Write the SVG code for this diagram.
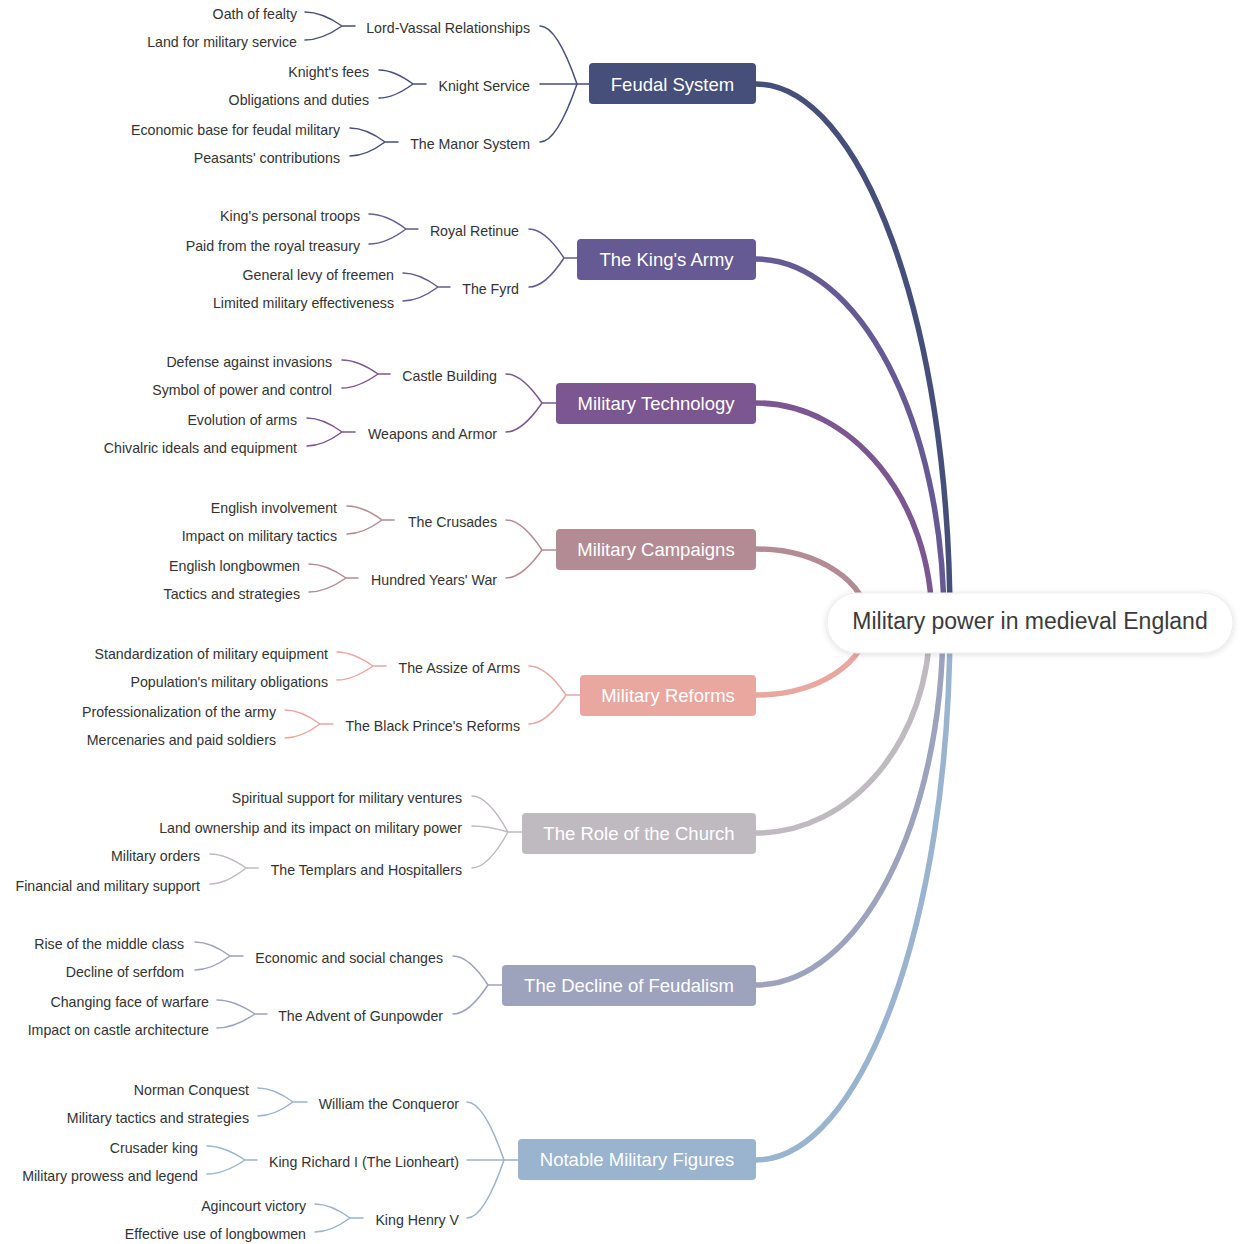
<svg xmlns="http://www.w3.org/2000/svg" width="1240" height="1244" viewBox="0 0 1240 1244">
<defs>
<filter id="sh" x="-10%" y="-40%" width="120%" height="180%">
<feDropShadow dx="0" dy="1" stdDeviation="3" flood-color="#000" flood-opacity="0.14"/>
</filter>
<style>
text{font-family:"Liberation Sans",Arial,Helvetica,sans-serif}
.t{font-size:14.2px;fill:#333;text-anchor:end}
.b{font-size:18.5px;fill:#fff;text-anchor:middle}
.r{font-size:23px;fill:#3a3a3a;text-anchor:middle}
.l{fill:none;stroke-width:1.5;stroke-linecap:round}
.m{fill:none;stroke-width:5.5}
.cF{stroke:#464e7a}.cK{stroke:#655a93}.cT{stroke:#7c5690}.cC{stroke:#b38b95}.cR{stroke:#e9a79f}.cH{stroke:#bfb9c0}.cD{stroke:#9ea3bd}.cN{stroke:#9ab3cf}
</style>
</defs>
<rect width="1240" height="1244" fill="#fff"/>
<g id="connectors">
<path class="m cF" d="M756,84 C860,84 950,320 950,622"/>
<path class="m cK" d="M756,259 C858,259 944,420 944,622"/>
<path class="m cT" d="M756,403 C852,403 932,500 932,622"/>
<path class="m cC" d="M756,549 C818,549 868,582 868,622"/>
<path class="m cR" d="M756,695 C818,695 868,662 868,622"/>
<path class="m cH" d="M756,833 C852,833 930,740 930,622"/>
<path class="m cD" d="M756,985 C858,985 943,824 943,622"/>
<path class="m cN" d="M756,1160 C860,1160 950,924 950,622"/>
<g class="l cF">
<path d="M540,26 Q557,26 577,84 M540,142 Q557,142 577,84 M540,84 H589"/>
<path d="M305,12 Q322,12 342,26 M305,40 Q322,40 342,26 M342,26 H355"/>
<path d="M379,70 Q394,70 413,84 M379,98 Q394,98 413,84 M413,84 H426"/>
<path d="M350,128 Q366,128 385,142 M350,156 Q366,156 385,142 M385,142 H398"/>
</g>
<g class="l cK">
<path d="M529,229 Q545,229 564,258 M529,287 Q545,287 564,258 M564,258 H577"/>
<path d="M369,214 Q386,214 406,229 M369,244 Q386,244 406,229 M406,229 H418"/>
<path d="M403,273 Q419,273 438,287 M403,301 Q419,301 438,287 M438,287 H450"/>
</g>
<g class="l cT">
<path d="M506,374 Q522,374 542,403 M506,432 Q522,432 542,403 M542,403 H556"/>
<path d="M342,360 Q358,360 378,374 M342,388 Q358,388 378,374 M378,374 H390"/>
<path d="M307,418 Q323,418 342,432 M307,446 Q323,446 342,432 M342,432 H355"/>
</g>
<g class="l cC">
<path d="M506,520 Q522,520 542,550 M506,578 Q522,578 542,550 M542,550 H556"/>
<path d="M347,506 Q363,506 382,520 M347,534 Q363,534 382,520 M382,520 H394"/>
<path d="M309,564 Q326,564 346,578 M309,592 Q326,592 346,578 M346,578 H358"/>
</g>
<g class="l cR">
<path d="M529,666 Q546,666 566,695 M529,724 Q546,724 566,695 M566,695 H580"/>
<path d="M337,652 Q353,652 373,666 M337,680 Q353,680 373,666 M373,666 H386"/>
<path d="M285,710 Q301,710 320,724 M285,738 Q301,738 320,724 M320,724 H333"/>
</g>
<g class="l cH">
<path d="M472,796 Q488,796 508,832 M472,826 Q488,826 508,832 M472,868 Q488,868 508,832 M508,832 H522"/>
<path d="M210,854 Q226,854 246,868 M210,884 Q226,884 246,868 M246,868 H258"/>
</g>
<g class="l cD">
<path d="M453,956 Q469,956 488,985 M453,1014 Q469,1014 488,985 M488,985 H502"/>
<path d="M195,942 Q211,942 230,956 M195,970 Q211,970 230,956 M230,956 H243"/>
<path d="M217,1000 Q234,1000 255,1014 M217,1028 Q234,1028 255,1014 M255,1014 H267"/>
</g>
<g class="l cN">
<path d="M467,1102 Q484,1102 504,1160 M467,1218 Q484,1218 504,1160 M467,1160 H518"/>
<path d="M258,1088 Q274,1088 293,1102 M258,1116 Q274,1116 293,1102 M293,1102 H307"/>
<path d="M207,1146 Q224,1146 245,1160 M207,1174 Q224,1174 245,1160 M245,1160 H257"/>
<path d="M315,1204 Q331,1204 350,1218 M315,1232 Q331,1232 350,1218 M350,1218 H363"/>
</g>
</g>
<g id="root">
<rect x="827" y="593" width="406" height="60" rx="30" fill="#fff" stroke="#ececec" stroke-width="1" filter="url(#sh)"/>
<text class="r" x="1030" y="629">Military power in medieval England</text>
</g>
<g id="feudal-system">
<rect x="589" y="63" width="167" height="41" rx="4" fill="#464e7a"/>
<text class="b" x="672.5" y="90.5">Feudal System</text>
<g id="lord-vassal"><text class="t" x="530" y="32.5">Lord-Vassal Relationships</text>
<text class="t" x="297" y="18.5">Oath of fealty</text><text class="t" x="297" y="46.5">Land for military service</text></g>
<g id="knight-service"><text class="t" x="530" y="90.5">Knight Service</text>
<text class="t" x="369" y="76.5">Knight's fees</text><text class="t" x="369" y="104.5">Obligations and duties</text></g>
<g id="manor"><text class="t" x="530" y="148.5">The Manor System</text>
<text class="t" x="340" y="134.5">Economic base for feudal military</text><text class="t" x="340" y="162.5">Peasants' contributions</text></g>
</g>
<g id="kings-army">
<rect x="577" y="239" width="179" height="41" rx="4" fill="#655a93"/>
<text class="b" x="666.5" y="266">The King's Army</text>
<g id="royal-retinue"><text class="t" x="519" y="235.5">Royal Retinue</text>
<text class="t" x="360" y="220.5">King's personal troops</text><text class="t" x="360" y="250.5">Paid from the royal treasury</text></g>
<g id="fyrd"><text class="t" x="519" y="293.5">The Fyrd</text>
<text class="t" x="394" y="279.5">General levy of freemen</text><text class="t" x="394" y="307.5">Limited military effectiveness</text></g>
</g>
<g id="military-technology">
<rect x="556" y="383" width="200" height="41" rx="4" fill="#7c5690"/>
<text class="b" x="656" y="410">Military Technology</text>
<g id="castle-building"><text class="t" x="497" y="380.5">Castle Building</text>
<text class="t" x="332" y="366.5">Defense against invasions</text><text class="t" x="332" y="394.5">Symbol of power and control</text></g>
<g id="weapons-armor"><text class="t" x="497" y="438.5">Weapons and Armor</text>
<text class="t" x="297" y="424.5">Evolution of arms</text><text class="t" x="297" y="452.5">Chivalric ideals and equipment</text></g>
</g>
<g id="military-campaigns">
<rect x="556" y="529" width="200" height="41" rx="4" fill="#b38b95"/>
<text class="b" x="656" y="556">Military Campaigns</text>
<g id="crusades"><text class="t" x="497" y="526.5">The Crusades</text>
<text class="t" x="337" y="512.5">English involvement</text><text class="t" x="337" y="540.5">Impact on military tactics</text></g>
<g id="hundred-years"><text class="t" x="497" y="584.5">Hundred Years' War</text>
<text class="t" x="300" y="570.5">English longbowmen</text><text class="t" x="300" y="598.5">Tactics and strategies</text></g>
</g>
<g id="military-reforms">
<rect x="580" y="675" width="176" height="41" rx="4" fill="#e9a79f"/>
<text class="b" x="668" y="702">Military Reforms</text>
<g id="assize"><text class="t" x="520" y="672.5">The Assize of Arms</text>
<text class="t" x="328" y="658.5">Standardization of military equipment</text><text class="t" x="328" y="686.5">Population's military obligations</text></g>
<g id="black-prince"><text class="t" x="520" y="730.5">The Black Prince's Reforms</text>
<text class="t" x="276" y="716.5">Professionalization of the army</text><text class="t" x="276" y="744.5">Mercenaries and paid soldiers</text></g>
</g>
<g id="role-of-church">
<rect x="522" y="813" width="234" height="41" rx="4" fill="#bfb9c0"/>
<text class="b" x="639" y="840">The Role of the Church</text>
<text class="t" x="462" y="802.5">Spiritual support for military ventures</text>
<text class="t" x="462" y="832.5">Land ownership and its impact on military power</text>
<g id="templars"><text class="t" x="462" y="874.5">The Templars and Hospitallers</text>
<text class="t" x="200" y="860.5">Military orders</text><text class="t" x="200" y="890.5">Financial and military support</text></g>
</g>
<g id="decline-of-feudalism">
<rect x="502" y="965" width="254" height="41" rx="4" fill="#9ea3bd"/>
<text class="b" x="629" y="992">The Decline of Feudalism</text>
<g id="economic-social"><text class="t" x="443" y="962.5">Economic and social changes</text>
<text class="t" x="184" y="948.5">Rise of the middle class</text><text class="t" x="184" y="976.5">Decline of serfdom</text></g>
<g id="gunpowder"><text class="t" x="443" y="1020.5">The Advent of Gunpowder</text>
<text class="t" x="209" y="1006.5">Changing face of warfare</text><text class="t" x="209" y="1034.5">Impact on castle architecture</text></g>
</g>
<g id="notable-figures">
<rect x="518" y="1139" width="238" height="41" rx="4" fill="#9ab3cf"/>
<text class="b" x="637" y="1166">Notable Military Figures</text>
<g id="william"><text class="t" x="459" y="1108.5">William the Conqueror</text>
<text class="t" x="249" y="1094.5">Norman Conquest</text><text class="t" x="249" y="1122.5">Military tactics and strategies</text></g>
<g id="richard"><text class="t" x="459" y="1166.5">King Richard I (The Lionheart)</text>
<text class="t" x="198" y="1152.5">Crusader king</text><text class="t" x="198" y="1180.5">Military prowess and legend</text></g>
<g id="henry"><text class="t" x="459" y="1224.5">King Henry V</text>
<text class="t" x="306" y="1210.5">Agincourt victory</text><text class="t" x="306" y="1238.5">Effective use of longbowmen</text></g>
</g>
</svg>
